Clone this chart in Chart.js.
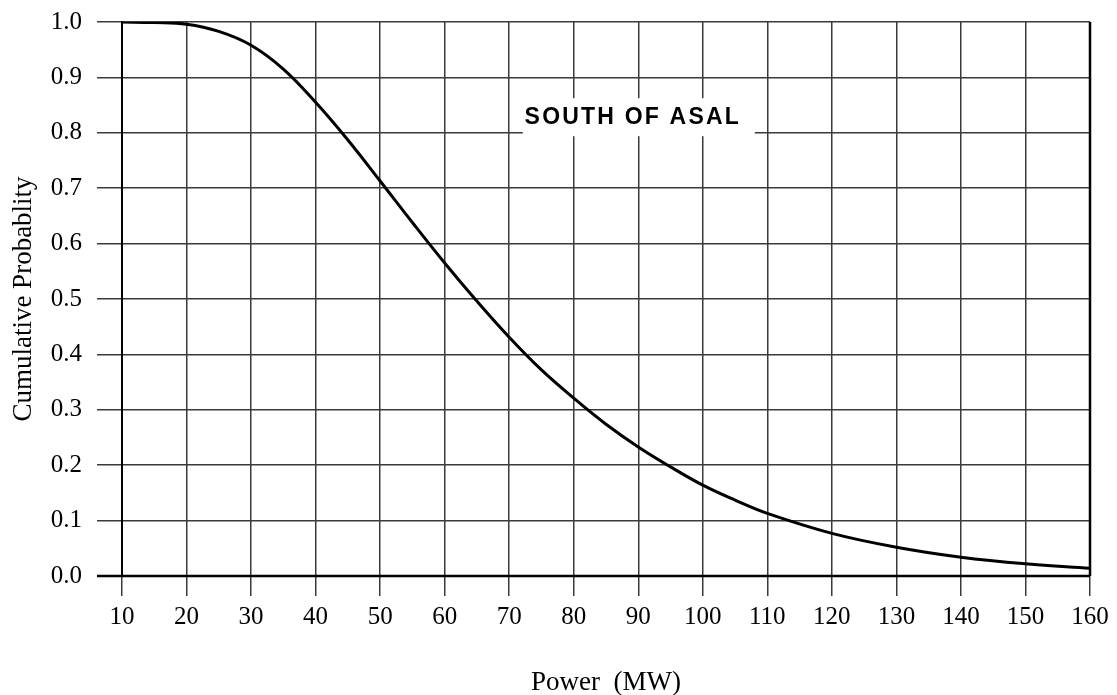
<!DOCTYPE html>
<html>
<head>
<meta charset="utf-8">
<script src="https://cdn.jsdelivr.net/npm/chart.js@4/dist/chart.umd.min.js"></script>
<style>
    html, body { margin: 0; padding: 0; background: #fff; }
    #wrap { width: 1117px; height: 695px; }
</style>
</head>
<body>
<div id="wrap"><canvas id="cdf-chart" width="1117" height="695"></canvas></div>
<script>
// values
const powerMW = [10, 15, 20, 25, 30, 35, 40, 45, 50, 55, 60, 65, 70, 75, 80, 85, 90, 95, 100, 105, 110, 120, 130, 140, 150, 160];
const cumProb = [1.0, 0.999, 0.996, 0.983, 0.958, 0.915, 0.855, 0.787, 0.713, 0.638, 0.565, 0.496, 0.431, 0.372, 0.321, 0.274, 0.233, 0.197, 0.164, 0.137, 0.113, 0.077, 0.052, 0.034, 0.022, 0.014];
const xTicks = [10, 20, 30, 40, 50, 60, 70, 80, 90, 100, 110, 120, 130, 140, 150, 160];

const chartLabel = { text: 'SOUTH OF ASAL', x: 89, y: 0.83 };

const serif = '"Liberation Serif", "Times New Roman", serif';

// white box with the site name, on top of the grid
const labelBox = {
    id: 'labelBox',
    beforeDatasetsDraw(chart) {
        const { ctx, scales } = chart;
        const cx = scales.x.getPixelForValue(chartLabel.x);
        const cy = scales.y.getPixelForValue(chartLabel.y);
        ctx.save();
        ctx.fillStyle = '#fff';
        ctx.fillRect(cx - 109, cy - 18, 232, 38);
        ctx.font = 'bold 23px "Liberation Sans", Arial, sans-serif';
        ctx.letterSpacing = '2.2px';
        ctx.fillStyle = '#000';
        ctx.textAlign = 'center';
        ctx.textBaseline = 'middle';
        ctx.fillText(chartLabel.text, cx + 1, cy + 1);
        ctx.restore();
    }
};

new Chart(document.getElementById('cdf-chart'), {
    type: 'line',
    data: {
        datasets: [{
            data: powerMW.map((p, i) => ({ x: p, y: cumProb[i] })),
            borderColor: '#000',
            borderWidth: 3,
            pointRadius: 0,
            fill: false,
            tension: 0.4,
        }]
    },
    options: {
        responsive: false,
        animation: false,
        layout: { padding: { top: 22, right: 27, left: 0, bottom: 0 } },
        plugins: {
            legend: { display: false },
            tooltip: { enabled: false },
        },
        scales: {
            x: {
                type: 'linear',
                min: 10,
                max: 160,
                afterFit: (s) => { s.height = 119; s.paddingRight = 0; s.paddingLeft = 0; },
                afterBuildTicks: (s) => { s.ticks = xTicks.map(v => ({ value: v })); },
                grid: { color: '#3a3a3a', lineWidth: 1.5, tickLength: 20 },
                border: { color: '#000', width: 1.5 },
                ticks: {
                    color: '#000',
                    padding: 6,
                    maxRotation: 0,
                    font: { family: serif, size: 25 },
                },
                title: {
                    display: true,
                    text: 'Power  (MW)',
                    color: '#000',
                    font: { family: serif, size: 27 },
                    padding: { top: 30, bottom: -4 },
                }
            },
            y: {
                min: 0,
                max: 1,
                afterFit: (s) => { s.width = 122; s.paddingTop = 0; s.paddingBottom = 0; },
                grid: { color: '#3a3a3a', lineWidth: 1.5, tickLength: 25 },
                border: { color: '#000', width: 2 },
                ticks: {
                    stepSize: 0.1,
                    color: '#000',
                    padding: 15,
                    font: { family: serif, size: 25 },
                    callback: (v) => v.toFixed(1),
                },
                title: {
                    display: true,
                    text: 'Cumulative Probablity',
                    color: '#000',
                    font: { family: serif, size: 27 },
                    padding: { top: 8, bottom: 0 },
                }
            }
        }
    },
    plugins: [labelBox, {
        id: 'axisLines',
        afterDatasetsDraw(chart) {
            const { ctx, chartArea: a } = chart;
            ctx.save();
            ctx.strokeStyle = '#000';
            ctx.lineWidth = 2.5;
            ctx.beginPath();
            ctx.moveTo(a.left - 25, a.bottom);
            ctx.lineTo(a.right, a.bottom);
            ctx.moveTo(a.right, a.top);
            ctx.lineTo(a.right, a.bottom);
            ctx.stroke();
            ctx.restore();
        }
    }]
});
</script>
</body>
</html>
